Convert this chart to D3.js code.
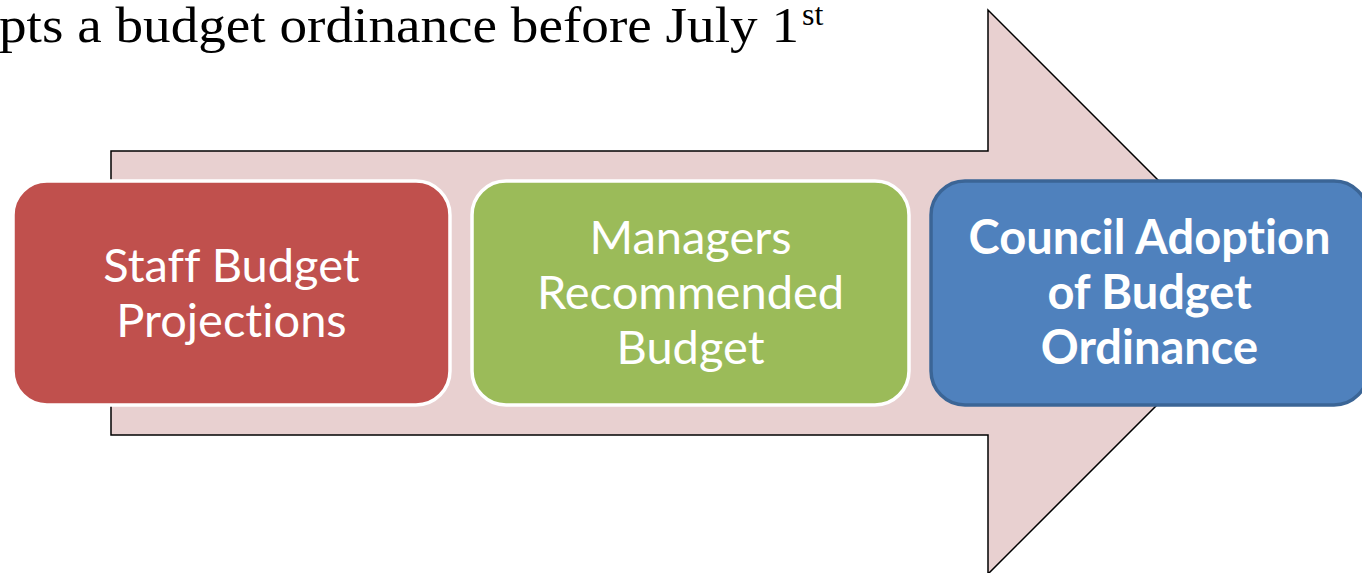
<!DOCTYPE html>
<html lang="en">
<head>
    <meta charset="UTF-8">
    <title>Budget Process</title>
    <script src="https://cdn.jsdelivr.net/npm/d3@7"></script>
    <style>
        html, body { margin: 0; padding: 0; background: #fff; overflow: hidden; }
        text { font-variant-ligatures: none; }
    </style>
</head>
<body>
    <svg width="1362" height="573"></svg>
    <script>
        // process steps
        const steps = ['staff', 'managers', 'council'];
        const stepLines = [
            ['Staff Budget', 'Projections'],
            ['Managers', 'Recommended', 'Budget'],
            ['Council Adoption', 'of Budget', 'Ordinance']
        ];
        const stepColors = ['#c0504d', '#9bbb59', '#4f81bd'];
        const stepBold = [false, false, true];
        const title = 'pts a budget ordinance before July 1';
        const titleSup = 'st';

        const svg = d3.select('svg');

        // title
        const t = svg.append('text')
            .attr('x', -1)
            .attr('y', 42)
            .attr('font-family', 'Liberation Serif, serif')
            .attr('font-size', 51)
            .attr('fill', '#000');
        t.append('tspan').text(title).attr('textLength', 800).attr('lengthAdjust', 'spacingAndGlyphs');
        t.append('tspan').text(titleSup).attr('font-size', 32).attr('dy', -17).attr('dx', 3);

        // big background arrow
        const arrow = {x0: 111, shaftTop: 151, shaftBot: 435, headX: 988, headTop: 10, headBot: 574, tipX: 1270};
        const midY = (arrow.headTop + arrow.headBot) / 2;
        const line = d3.line();
        svg.append('path')
            .attr('d', line([
                [arrow.x0, arrow.shaftTop],
                [arrow.headX, arrow.shaftTop],
                [arrow.headX, arrow.headTop],
                [arrow.tipX, midY],
                [arrow.headX, arrow.headBot],
                [arrow.headX, arrow.shaftBot],
                [arrow.x0, arrow.shaftBot]
            ]) + 'Z')
            .attr('fill', '#e8d0d0')
            .attr('stroke', '#000')
            .attr('stroke-width', 1.5);

        // boxes
        const x = d3.scaleBand()
            .domain(steps)
            .range([13, 1368])
            .paddingInner(0.048);

        const boxTop = 181, boxH = 224;

        const g = svg.selectAll('g.step')
            .data(steps)
            .enter()
            .append('g')
            .attr('class', 'step');

        g.append('rect')
            .attr('x', d => x(d))
            .attr('y', boxTop)
            .attr('width', x.bandwidth())
            .attr('height', boxH)
            .attr('rx', 34)
            .attr('fill', (d, i) => stepColors[i])
            .attr('stroke', (d, i) => stepBold[i] ? '#3b6596' : '#fff')
            .attr('stroke-width', 3.5);

        g.each(function (d, i) {
            const lines = stepLines[i];
            const cx = x(d) + x.bandwidth() / 2;
            const lh = 55;
            const cy = boxTop + boxH / 2;
            const first = cy - (lines.length - 1) * lh / 2;
            d3.select(this).selectAll('text')
                .data(lines)
                .enter()
                .append('text')
                .attr('x', cx)
                .attr('y', (l, j) => first + j * lh)
                .attr('dy', '0.35em')
                .attr('text-anchor', 'middle')
                .attr('font-family', 'Lato, sans-serif')
                .attr('font-size', stepBold[i] ? 47 : 47)
                .attr('font-weight', stepBold[i] ? 'bold' : 'normal')
                .attr('fill', '#fff')
                .text(l => l);
        });
    </script>
</body>
</html>
